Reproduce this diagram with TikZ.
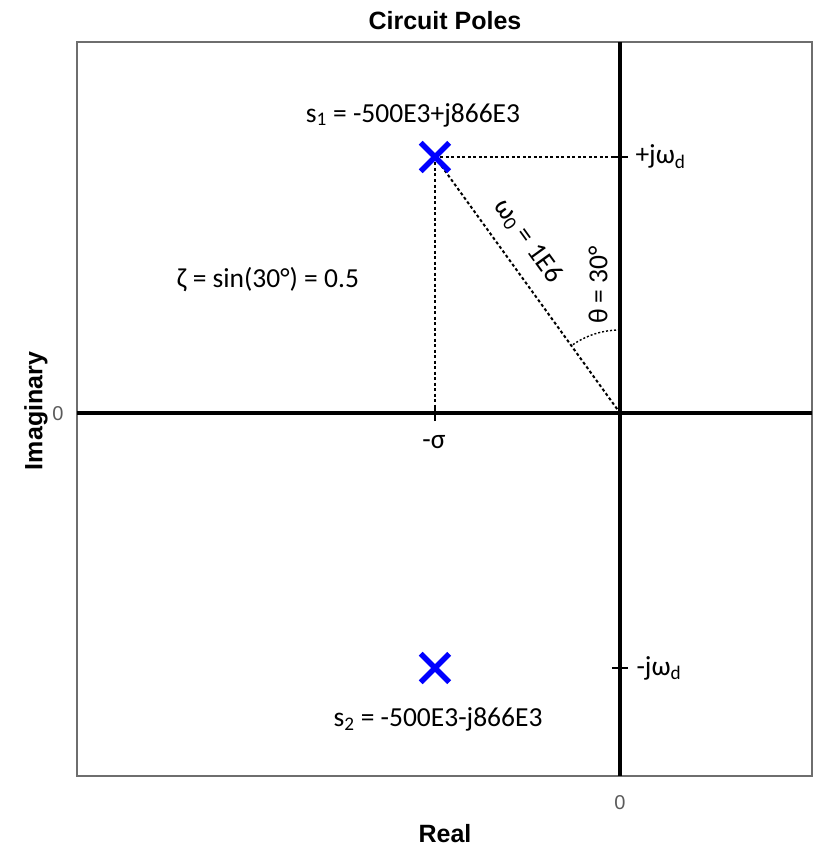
\documentclass[tikz,border=0pt]{standalone}
\usepackage{fontspec}
\setmainfont{Carlito}
\newfontfamily\arialfont{Liberation Sans}
\usepackage{tikz}
\usetikzlibrary{positioning,calc,shapes.misc}
\definecolor{poleblue}{RGB}{0,0,255}
\definecolor{framegray}{RGB}{110,110,110}
\definecolor{ticktext}{RGB}{90,90,90}
\newcommand{\omd}{ω\textsubscript{d}}

\begin{document}
\begin{tikzpicture}[
    x=1pt, y=1pt,
    font=\fontsize{27.5}{32}\selectfont,
    pole/.style={
      cross out, draw=poleblue, line width=5.5pt,
      minimum size=23pt, inner sep=0pt
    },
    axis/.style={line width=3.5pt, black},
    guide/.style={line width=2pt, dash pattern=on 3pt off 2.5pt},
    tickmark/.style={line width=1.8pt},
    axlabel/.style={font=\arialfont\bfseries\fontsize{25}{29}\selectfont},
    zerolabel/.style={font=\arialfont\fontsize{20}{24}\selectfont, text=ticktext},
  ]
    \useasboundingbox (-620,-434) rectangle (195,413);

    %── Frame and axes ─────────────────────────────────────────────────
    \draw[framegray, line width=2pt] (-543,-363) rectangle (192,371);
    \coordinate (origin) at (0,0);
    \draw[axis] (-543,0) -- (192,0);
    \draw[axis] (0,-363) -- (0,371);

    \node[axlabel] (title) at (-175,392) {Circuit Poles};
    \node[axlabel, rotate=90] (imlab) at (-584,2) {Imaginary};
    \node[axlabel] (relab) at (-175,-421) {Real};
    \node[zerolabel] (zim) at (-562,-1) {0};
    \node[zerolabel] (zre) at (0,-390) {0};

    %── Poles ──────────────────────────────────────────────────────────
    \coordinate (s1) at (-185,256);
    \coordinate (s2) at (-185,-255);
    \coordinate (wdp) at (0,256);
    \coordinate (wdm) at (0,-255);
    \coordinate (sig) at (-185,0);

    %── Dashed guides from s1 ──────────────────────────────────────────
    \draw[guide] (s1) -- (wdp);
    \draw[guide] (s1) -- (sig);
    \draw[guide] (s1) -- (origin);
    \draw[line width=1.4pt, dash pattern=on 2pt off 2pt]
      ($(origin)+(90:83)$) arc[start angle=90, end angle=125.85, radius=83];

    %── Ticks ──────────────────────────────────────────────────────────
    \draw[tickmark] ([xshift=-8pt]wdp) -- ([xshift=8pt]wdp);
    \draw[tickmark] ([xshift=-8pt]wdm) -- ([xshift=8pt]wdm);
    \draw[tickmark] ([yshift=-8pt]sig) -- ([yshift=8pt]sig);

    \node[pole] (p1) at (s1) {};
    \node[pole] (p2) at (s2) {};

    %── Labels ─────────────────────────────────────────────────────────
    \node (s1lab) at (-207,298) {s\textsubscript{1} = -500E3+j866E3};
    \node (s2lab) at (-182,-306) {s\textsubscript{2} = -500E3-j866E3};
    \node[anchor=west] (wdplab) at (12,256) {+j\omd};
    \node[anchor=west] (wdmlab) at (13,-255) {-j\omd};
    \node (siglab) at (-186,-29) {-σ};
    \node[rotate=-54.15] (w0lab) at (-92,172) {ω\textsubscript{0} = 1E6};
    \node[rotate=90] (thlab) at (-22,128) {θ = 30°};
    \node (zetalab) at (-352,133) {ζ = sin(30°) = 0.5};

  \end{tikzpicture}
\end{document}
